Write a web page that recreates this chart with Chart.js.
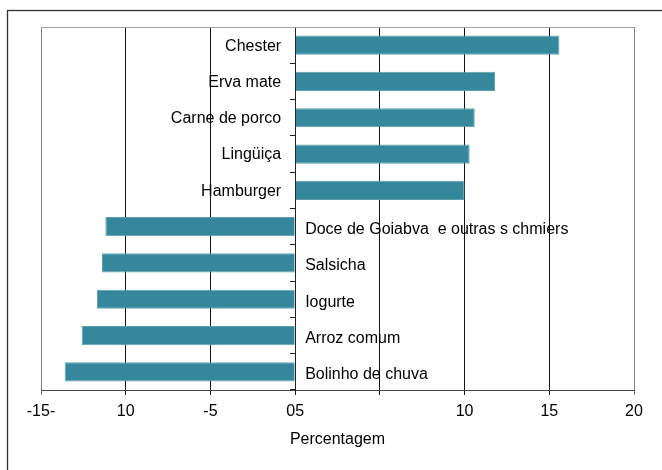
<!DOCTYPE html>
<html>
<head>
<meta charset="utf-8">
<script src="https://cdn.jsdelivr.net/npm/chart.js@4.4.1/dist/chart.umd.min.js"></script>
<style>
  html, body { margin: 0; padding: 0; background: #fff; }
  #wrap { width: 662px; height: 470px; position: relative; }
</style>
</head>
<body>
<div id="wrap"><canvas id="c" width="662" height="470"></canvas></div>
<script>
const categories = ['Chester', 'Erva mate', 'Carne de porco', 'Lingüiça', 'Hamburger',
  'Doce de Goiabva  e outras s chmiers', 'Salsicha', 'Iogurte', 'Arroz comum', 'Bolinho de chuva'];
const values = [15.6, 11.8, 10.6, 10.3, 10.0, -11.2, -11.4, -11.7, -12.6, -13.6];
const xTickLabels = ['-15-', '10', '-5', '05', '', '10', '15', '20'];
const xTitle = 'Percentagem';

const FONT = "'Liberation Sans', Arial, sans-serif";

const framePlugin = {
  id: 'frame',
  beforeDraw(chart) {
    const ctx = chart.ctx;
    ctx.save();
    ctx.fillStyle = '#fff';
    ctx.fillRect(0, 0, chart.width, chart.height);
    ctx.strokeStyle = '#333';
    ctx.lineWidth = 1.3;
    ctx.strokeRect(7.5, 10.5, chart.width + 20, chart.height + 20);
    ctx.restore();
  },
  beforeDatasetsDraw(chart) {
    const ctx = chart.ctx, a = chart.chartArea;
    ctx.save();
    ctx.strokeStyle = '#a0a0a0';
    ctx.lineWidth = 1;
    ctx.beginPath();
    ctx.moveTo(a.left, Math.round(a.top) + 0.5);
    ctx.lineTo(a.right, Math.round(a.top) + 0.5);
    ctx.stroke();
    ctx.restore();
  }
};

const labelPlugin = {
  id: 'barLabels',
  afterDatasetsDraw(chart) {
    const ctx = chart.ctx;
    const xs = chart.scales.x, ys = chart.scales.y;
    const x0 = xs.getPixelForValue(0);
    ctx.save();
    ctx.font = '16px ' + FONT;
    ctx.fillStyle = '#000';
    ctx.textBaseline = 'middle';
    categories.forEach((name, i) => {
      const y = ys.getPixelForValue(i);
      if (values[i] >= 0) {
        ctx.textAlign = 'right';
        ctx.fillText(name, x0 - 14, y + 1);
      } else {
        ctx.textAlign = 'left';
        ctx.fillText(name, x0 + 10, y + 3);
      }
    });
    ctx.restore();
  }
};

new Chart(document.getElementById('c'), {
  type: 'bar',
  data: {
    labels: categories,
    datasets: [{
      data: values,
      backgroundColor: '#35879b',
      borderColor: '#5e9fb0',
      borderWidth: 1,
      borderSkipped: 'start',
      barPercentage: 0.53,
      categoryPercentage: 1
    }]
  },
  options: {
    indexAxis: 'y',
    responsive: false,
    animation: false,
    layout: { padding: { left: 41, top: 27, right: 28, bottom: 0 } },
    plugins: { legend: { display: false }, tooltip: { enabled: false } },
    scales: {
      x: {
        type: 'linear',
        min: -15,
        max: 20,
        ticks: {
          stepSize: 5,
          color: '#000',
          font: { family: FONT, size: 16 },
          padding: 7,
          maxRotation: 0,
          autoSkip: false,
          callback: (v, i) => xTickLabels[i]
        },
        grid: {
          color: (c) => (c.index === 0 || c.index === 7) ? '#808080' : '#111',
          lineWidth: 1,
          tickLength: 5,
          drawTicks: true
        },
        border: { display: true, color: '#444', width: 1 },
        title: {
          display: true,
          text: xTitle,
          color: '#000',
          font: { family: FONT, size: 16 },
          padding: { top: 0, bottom: 21 }
        },
        afterFit(scale) { scale.height = 80; }
      },
      y: {
        type: 'category',
        position: { x: 0 },
        ticks: { display: false },
        grid: {
          drawOnChartArea: false,
          drawTicks: true,
          tickLength: 5,
          color: '#222',
          offset: true
        },
        border: { display: true, color: '#222', width: 1 }
      }
    }
  },
  plugins: [framePlugin, labelPlugin]
});
</script>
</body>
</html>
